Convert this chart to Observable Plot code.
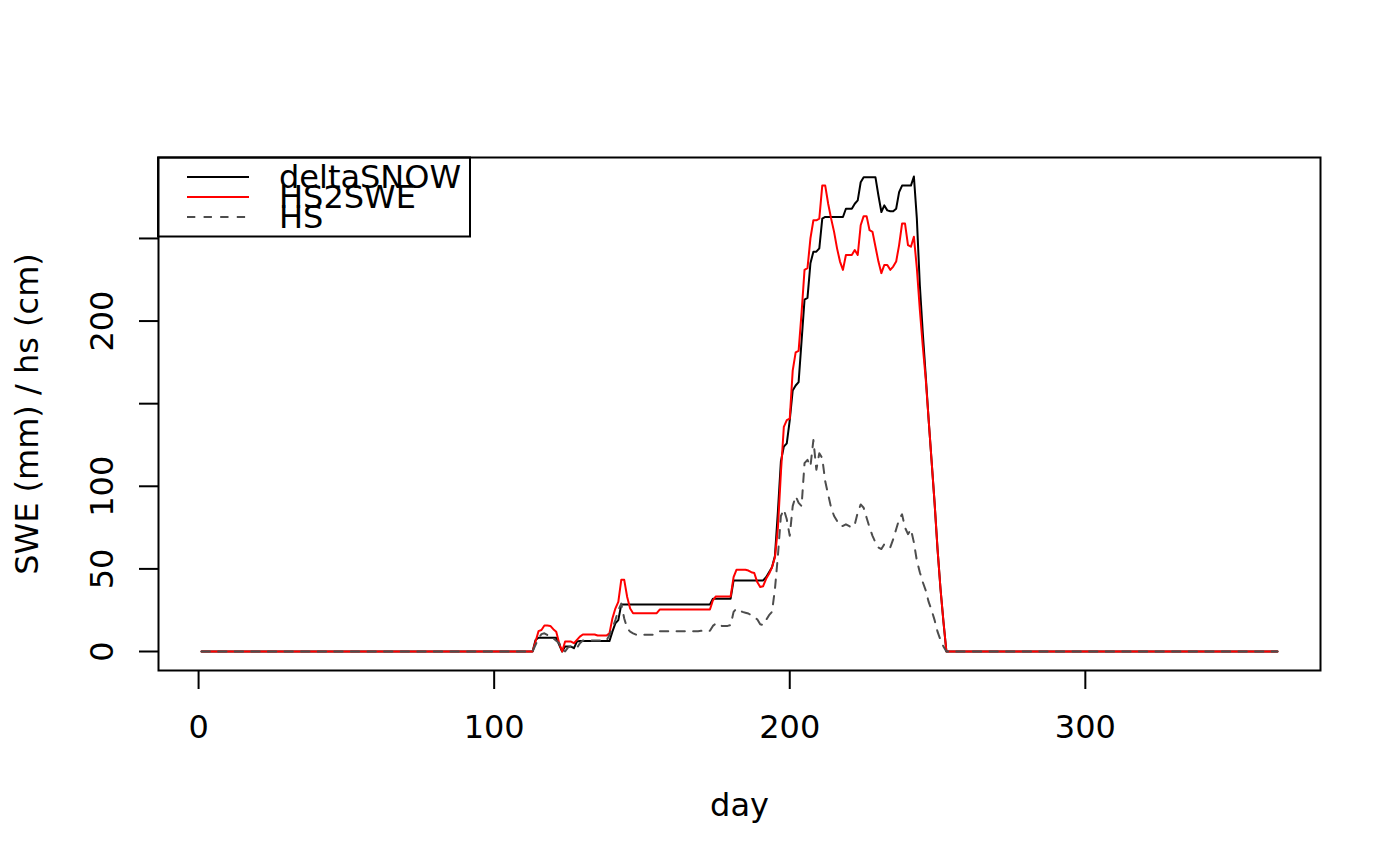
<!DOCTYPE html>
<html><head><meta charset="utf-8">
<script src="https://cdn.jsdelivr.net/npm/d3@7"></script>
<script src="https://cdn.jsdelivr.net/npm/@observablehq/plot@0.6"></script>
<style>
body{margin:0;background:#fff;}
#wrap{position:relative;width:1400px;height:866px;font-family:"DejaVu Sans",sans-serif;}
#legend{position:absolute;left:0;top:0;pointer-events:none;}
</style></head><body><div id="wrap"></div>
<script>
// day 1 .. 111 and 254 .. 365 are zero; values below start at day 112
const dayOne = 1;
const firstDay = 112;
const lastDay = 365;

const deltaSNOW = [
  0,0,7,8.3,8.3,8.3,8.3,8.3,8.3,8.3,           // 112-121
  4,0,3,3,3,2,6,6.3,6.3,6.3,                   // 122-131
  6.3,6.3,6.3,6.3,6.3,6.3,6.3,6.3,12,17,       // 132-141
  19,28.5,28.5,28.5,28.5,28.5,28.5,28.5,28.5,28.5, // 142-151
  28.5,28.5,28.5,28.5,28.5,28.5,28.5,28.5,28.5,28.5, // 152-161
  28.5,28.5,28.5,28.5,28.5,28.5,28.5,28.5,28.5,28.5, // 162-171
  28.5,28.5,32,32,32,32,32,32,32,43,           // 172-181
  43,43,43,43,43,43,43,43,43,43,               // 182-191
  45,48,51,58,85,115,124,126,140,158,          // 192-201
  161,163,188,213,214,235,242,242,244,262,     // 202-211
  263,263,263,263,263,263,263,268,268,268,     // 212-221
  271,273,284,287,287,287,287,287,276,266,     // 222-231
  270,267,266.5,266.5,268,278,282,282,282,282, // 232-241
  287.5,262,222,193,167,140,115,90,62,38,      // 242-251
  18,0                                         // 252-253
];
const HS2SWE = [
  0,0,6,12.3,13,15.7,15.7,15.5,13.5,12,        // 112-121
  5,0,6,6,6,5,7,9,10.3,10.3,                   // 122-131
  10.3,10.3,10.3,9.7,9.7,9.7,9.7,11,20,26,     // 132-141
  30,43.4,43.4,33,26,23.2,23.2,23.2,23.2,23.2, // 142-151
  23.2,23.2,23.2,23.2,25.4,25.4,25.4,25.4,25.4,25.4, // 152-161
  25.4,25.4,25.4,25.4,25.4,25.4,25.4,25.4,25.4,25.4, // 162-171
  25.4,25.4,31,33.3,33.3,33.3,33.3,33.3,33.3,45, // 172-181
  49.5,49.5,49.5,49.5,49,48,47.5,42,39,39.5,   // 182-191
  44,47,51,57,75,108,136,140,141,170,          // 192-201
  181,182,205,231,232,250,261,261,262,282,     // 202-211
  282,271,262,254,244,236,231,240,240,240,     // 212-221
  243,240,258,263.5,263.5,255,254,245,236,229, // 222-231
  234,234,231,233,236,246,259,259,246,245,     // 232-241
  251,232,207,185,165,140,115,90,62,38,        // 242-251
  18,0                                         // 252-253
];
const HS = [
  0,0,4,8,10.5,11,10,9.7,8,6.5,                // 112-121
  5,1,0,2.5,3,2.5,2.2,5,6.6,6.6,               // 122-131
  6.6,6.6,6.6,6.6,6.6,6.6,6.6,10,14,19,        // 132-141
  25,29,20,14,12,11,10.2,10.2,10.2,10.2,       // 142-151
  10.2,10.2,10.2,11,12.3,12.3,12.3,12.3,12.3,12.3, // 152-161
  12.3,12.3,12.3,12.3,12.3,12.3,12.3,12.3,12.5,12.7, // 162-171
  12.7,12.5,15.5,17,17,15.5,15.5,15.5,16,24,   // 172-181
  26,25,24,23.5,23,22,20.5,19.5,16.5,16,       // 182-191
  19,22,24,38,58,82,86,80,70,88,               // 192-201
  94,90,88,114,116,112,128,110,120,117,        // 202-211
  103,95,87,82,79,76,76,77,76,75,              // 212-221
  77,84,89,87,81,75,70,66,63,62,               // 222-231
  65,63,63,68,74,80,83,75,71,74,               // 232-241
  66,55,48,42,37,30,25,19,12,7,                // 242-251
  3,0                                          // 252-253
];

const seriesNames = ["deltaSNOW", "HS2SWE", "HS"];
const seriesColors = ["#000000", "#ff0000", "#4d4d4d"];
const seriesDash = [null, null, "8.3,8.3"];
const xTicks = [0, 100, 200, 300];
const yTicks = [0, 50, 100, 150, 200, 250];
const yTickLabels = [0, 50, 100, 200];
const xLabel = "day";
const yLabel = "SWE (mm) / hs (cm)";

function rows(vals, name) {
  const r = [{day: dayOne, value: 0, series: name}];
  vals.forEach((v, i) => r.push({day: firstDay + i, value: v, series: name}));
  r.push({day: lastDay, value: 0, series: name});
  return r;
}
const seriesVals = [deltaSNOW, HS2SWE, HS];
const data = seriesVals.map((v, i) => rows(v, seriesNames[i]));

const xr = lastDay - dayOne;
const xDom = [dayOne - 0.04 * xr, lastDay + 0.04 * xr];
const ymax = d3.max(seriesVals.flat());
const yDom = [-0.04 * ymax, 1.04 * ymax];
const fs = 32;
const ff = '"DejaVu Sans", sans-serif';

const chart = Plot.plot({
  width: 1400, height: 866,
  marginLeft: 158, marginRight: 80, marginTop: 157, marginBottom: 196,
  style: {fontFamily: ff, fontSize: fs + "px", color: "#000", background: "#fff"},
  x: {domain: xDom},
  y: {domain: yDom},
  marks: [
    Plot.axisX({ticks: xTicks, tickSize: 19, tickPadding: 26, fontSize: fs, label: null, tickFormat: d => String(d), strokeWidth: 2}),
    Plot.axisY({ticks: yTicks, tickSize: 19, tickFormat: () => "", label: null, strokeWidth: 2}),
    Plot.text(yTickLabels, {x: xDom[0], y: d => d, text: d => String(d), rotate: -90, dx: -56, fontSize: fs, textAnchor: "middle", lineAnchor: "middle"}),
    Plot.text([yLabel], {frameAnchor: "left", text: d => d, rotate: -90, dx: -131, fontSize: fs, textAnchor: "middle", lineAnchor: "middle"}),
    Plot.text([xLabel], {frameAnchor: "bottom", text: d => d, dy: 135, fontSize: fs, textAnchor: "middle", lineAnchor: "middle"}),
    ...data.map((d, i) => Plot.line(d, {x: "day", y: "value", stroke: seriesColors[i], strokeWidth: 2, strokeDasharray: seriesDash[i] || undefined})),
    Plot.frame({stroke: "#000", strokeWidth: 2})
  ]
});
const wrap = document.getElementById("wrap");
wrap.appendChild(chart);

// legend (R-style top-left box)
const svg = d3.select(wrap).append("svg").attr("id", "legend").attr("width", 1400).attr("height", 866);
svg.append("rect").attr("x", 158).attr("y", 157.5).attr("width", 312).attr("height", 79)
  .attr("fill", "none").attr("stroke", "#000").attr("stroke-width", 2);
seriesNames.forEach((n, i) => {
  const y = 177 + i * 20;
  svg.append("line").attr("x1", 187).attr("x2", 249).attr("y1", y).attr("y2", y)
    .attr("stroke", seriesColors[i]).attr("stroke-width", 2)
    .attr("stroke-dasharray", seriesDash[i]);
  svg.append("text").attr("x", 279).attr("y", y + 11).attr("font-size", fs)
    .attr("font-family", ff).attr("fill", "#000").text(n);
});
</script></body></html>
